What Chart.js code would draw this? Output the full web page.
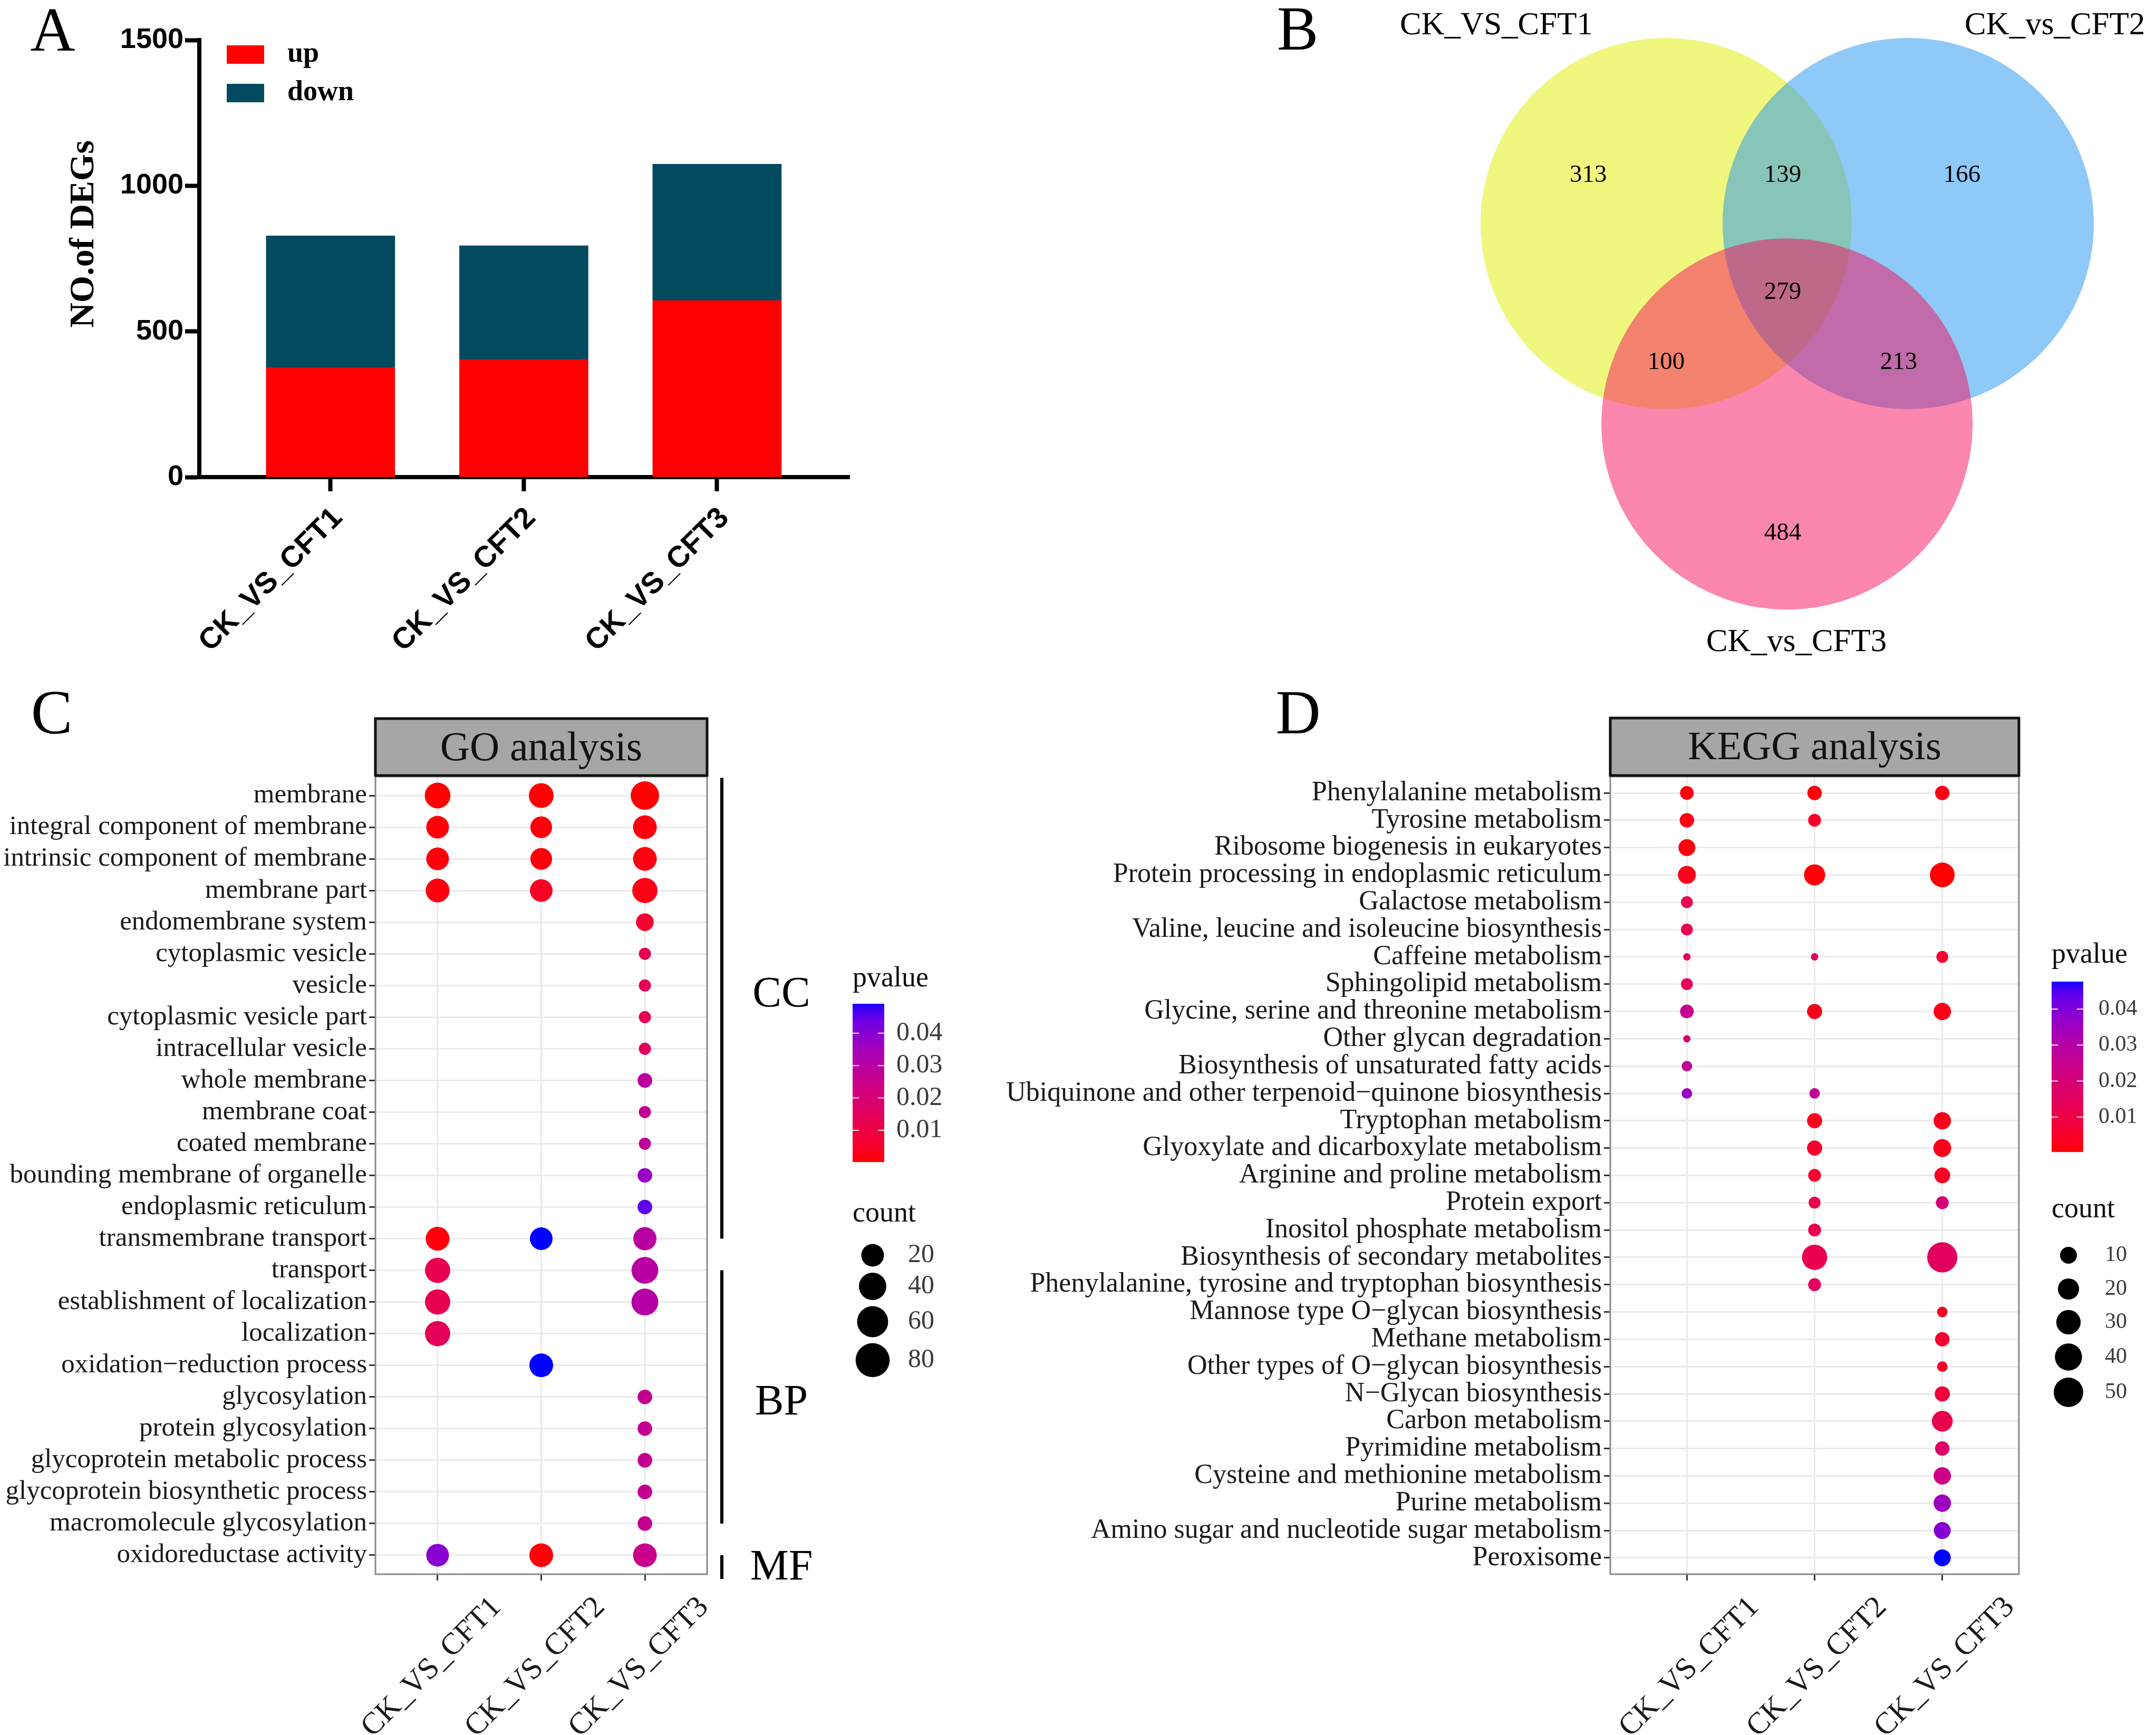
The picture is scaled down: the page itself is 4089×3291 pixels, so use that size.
<!DOCTYPE html>
<html>
<head>
<meta charset="utf-8">
<script src="https://cdn.jsdelivr.net/npm/chart.js@4.4.1/dist/chart.umd.min.js"></script>
<style>
html,body{margin:0;padding:0;background:#fff;}
#page{position:relative;width:4089px;height:3291px;overflow:hidden;background:#fff;}
canvas{position:absolute;display:block;}
</style>
</head>
<body>
<div id="page">
<canvas id="cA" width="1700" height="1300" style="left:0px;top:0px;width:1700px;height:1300px"></canvas>
<canvas id="cB" width="1689" height="1300" style="left:2400px;top:0px;width:1689px;height:1300px"></canvas>
<canvas id="cC" width="1900" height="1991" style="left:0px;top:1300px;width:1900px;height:1991px"></canvas>
<canvas id="cD" width="2189" height="1991" style="left:1900px;top:1300px;width:2189px;height:1991px"></canvas>
</div>
<script>
// ---------------- DATA ----------------
// Panel A: number of DEGs
const degComparisons = ['CK_VS_CFT1', 'CK_VS_CFT2', 'CK_VS_CFT3'];
const degUp   = [376, 404, 606];
const degDown = [452, 390, 468];
const degTicks = [0, 500, 1000, 1500];

// Panel B: Venn
const vennSetNames = ['CK_VS_CFT1', 'CK_vs_CFT2', 'CK_vs_CFT3'];
// regions: only1, 1&2, only2, 1&2&3, 1&3, 2&3, only3
const vennRegionCounts = [313, 139, 166, 279, 100, 213, 484];

// Panel C: GO analysis
const goComparisons = ['CK_VS_CFT1', 'CK_VS_CFT2', 'CK_VS_CFT3'];
const goTerms = ['membrane', 'integral component of membrane', 'intrinsic component of membrane', 'membrane part',
  'endomembrane system', 'cytoplasmic vesicle', 'vesicle', 'cytoplasmic vesicle part', 'intracellular vesicle',
  'whole membrane', 'membrane coat', 'coated membrane', 'bounding membrane of organelle', 'endoplasmic reticulum',
  'transmembrane transport', 'transport', 'establishment of localization', 'localization',
  'oxidation\u2212reduction process', 'glycosylation', 'protein glycosylation', 'glycoprotein metabolic process',
  'glycoprotein biosynthetic process', 'macromolecule glycosylation', 'oxidoreductase activity'];
const goCountCFT1 = [32, 20, 20, 24, null, null, null, null, null, null, null, null, null, null, 24, 30, 30, 30, null, null, null, null, null, null, 20];
const goCountCFT2 = [28, 17, 17, 20, null, null, null, null, null, null, null, null, null, null, 20, null, null, null, 24, null, null, null, null, null, 24];
const goCountCFT3 = [45, 24, 24, 30, 7, 2, 2, 2, 2, 3, 2, 2, 3, 3, 22, 37, 37, null, null, 3, 3, 3, 3, 3, 24];
const goPvalCFT1 = [0.0004, 0.0008, 0.0009, 0.0015, null, null, null, null, null, null, null, null, null, null, 0.0010, 0.0125, 0.0130, 0.0140, null, null, null, null, null, null, 0.0400];
const goPvalCFT2 = [0.0005, 0.0010, 0.0011, 0.0040, null, null, null, null, null, null, null, null, null, null, 0.0491, null, null, null, 0.0491, null, null, null, null, null, 0.0006];
const goPvalCFT3 = [0.0002, 0.0015, 0.0016, 0.0020, 0.0060, 0.0130, 0.0140, 0.0135, 0.0150, 0.0290, 0.0270, 0.0275, 0.0370, 0.0450, 0.0300, 0.0300, 0.0310, null, null, 0.0260, 0.0265, 0.0265, 0.0270, 0.0265, 0.0250];
const goPvalTicks = [0.01, 0.02, 0.03, 0.04];
const goCountTicks = [20, 40, 60, 80];

// Panel D: KEGG analysis
const keggComparisons = ['CK_VS_CFT1', 'CK_VS_CFT2', 'CK_VS_CFT3'];
const keggTerms = ['Phenylalanine metabolism', 'Tyrosine metabolism', 'Ribosome biogenesis in eukaryotes',
  'Protein processing in endoplasmic reticulum', 'Galactose metabolism', 'Valine, leucine and isoleucine biosynthesis',
  'Caffeine metabolism', 'Sphingolipid metabolism', 'Glycine, serine and threonine metabolism', 'Other glycan degradation',
  'Biosynthesis of unsaturated fatty acids', 'Ubiquinone and other terpenoid\u2212quinone biosynthesis', 'Tryptophan metabolism',
  'Glyoxylate and dicarboxylate metabolism', 'Arginine and proline metabolism', 'Protein export', 'Inositol phosphate metabolism',
  'Biosynthesis of secondary metabolites', 'Phenylalanine, tyrosine and tryptophan biosynthesis', 'Mannose type O\u2212glycan biosynthesis',
  'Methane metabolism', 'Other types of O\u2212glycan biosynthesis', 'N\u2212Glycan biosynthesis', 'Carbon metabolism',
  'Pyrimidine metabolism', 'Cysteine and methionine metabolism', 'Purine metabolism',
  'Amino sugar and nucleotide sugar metabolism', 'Peroxisome'];
const keggCountCFT1 = [5, 6, 10, 12, 3, 3, 1, 3, 5, 1, 2, 2, null, null, null, null, null, null, null, null, null, null, null, null, null, null, null, null, null];
const keggCountCFT2 = [6, 4, null, 20, null, null, 1, null, 7, null, null, 2, 7, 7, 4, 3, 4, 33, 4, null, null, null, null, null, null, null, null, null, null];
const keggCountCFT3 = [6, null, null, 31, null, null, 3, null, 11, null, null, null, 11, 12, 8, 4, null, 53, null, 2, 6, 2, 7, 19, 6, 11, 11, 10, 10];
const keggPvalCFT1 = [0.0015, 0.0020, 0.0015, 0.0030, 0.0120, 0.0115, 0.0160, 0.0140, 0.0250, 0.0200, 0.0270, 0.0360, null, null, null, null, null, null, null, null, null, null, null, null, null, null, null, null, null];
const keggPvalCFT2 = [0.0010, 0.0045, null, 0.0008, null, null, 0.0150, null, 0.0030, null, null, 0.0270, 0.0030, 0.0050, 0.0060, 0.0110, 0.0120, 0.0120, 0.0150, null, null, null, null, null, null, null, null, null, null];
const keggPvalCFT3 = [0.0020, null, null, 0.0003, null, null, 0.0060, null, 0.0025, null, null, null, 0.0025, 0.0030, 0.0040, 0.0200, null, 0.0150, null, 0.0040, 0.0060, 0.0050, 0.0080, 0.0110, 0.0170, 0.0230, 0.0350, 0.0390, 0.0476];
const keggPvalTicks = [0.01, 0.02, 0.03, 0.04];
const keggCountTicks = [10, 20, 30, 40, 50];

// ---------------- HELPERS ----------------
const SERIF = 'Liberation Serif, Times New Roman, serif';
const SANS = 'Liberation Sans, Arial, sans-serif';

function toLin(c){c/=255;return c<=0.04045?c/12.92:Math.pow((c+0.055)/1.055,2.4);}
function fromLin(v){v=v<=0.0031308?12.92*v:1.055*Math.pow(v,1/2.4)-0.055;return Math.max(0,Math.min(255,Math.round(v*255)));}
function rgb2lab(rgb){
  const [r,g,b]=rgb.map(toLin);
  const X=(0.4124564*r+0.3575761*g+0.1804375*b)/0.95047;
  const Y=(0.2126729*r+0.7151522*g+0.0721750*b);
  const Z=(0.0193339*r+0.1191920*g+0.9503041*b)/1.08883;
  const f=t=>t>0.008856?Math.cbrt(t):7.787*t+16/116;
  const fx=f(X),fy=f(Y),fz=f(Z);
  return [116*fy-16,500*(fx-fy),200*(fy-fz)];
}
function lab2rgb([L,a,b]){
  const fy=(L+16)/116,fx=fy+a/500,fz=fy-b/200;
  const finv=t=>{const t3=t*t*t;return t3>0.008856?t3:(t-16/116)/7.787;};
  const X=finv(fx)*0.95047,Y=finv(fy),Z=finv(fz)*1.08883;
  const r=3.2404542*X-1.5371385*Y-0.4985314*Z;
  const g=-0.9692660*X+1.8760108*Y+0.0415560*Z;
  const bl=0.0556434*X-0.2040259*Y+1.0572252*Z;
  return [fromLin(r),fromLin(g),fromLin(bl)];
}
const LAB_LOW = rgb2lab([255,0,0]);
const LAB_HIGH = rgb2lab([0,0,255]);
function gradColor(t){
  t=Math.max(0,Math.min(1,t));
  const lab=[0,1,2].map(k=>LAB_LOW[k]+(LAB_HIGH[k]-LAB_LOW[k])*t);
  const c=lab2rgb(lab);
  return 'rgb('+c[0]+','+c[1]+','+c[2]+')';
}

const letterPlugin = (letter, x, y) => ({
  id: 'letter' + letter,
  afterDraw(chart){
    const ctx = chart.ctx;
    ctx.save();
    ctx.fillStyle = '#000';
    ctx.font = '118px ' + SERIF;
    ctx.textAlign = 'center';
    ctx.textBaseline = 'alphabetic';
    ctx.fillText(letter, x, y);
    ctx.restore();
  }
});

// ---------------- PANEL A ----------------
const degColors = ['#ff0000', '#024b5e'];
const degLegendPlugin = {
  id: 'degLegend',
  afterDraw(chart){
    const ctx = chart.ctx;
    ctx.save();
    chart.data.datasets.forEach((ds, i) => {
      const y = 86 + i * 73;
      ctx.fillStyle = ds.backgroundColor;
      ctx.fillRect(430, y, 71, 35);
      ctx.fillStyle = '#000';
      ctx.font = 'bold 54px ' + SERIF;
      ctx.textAlign = 'left';
      ctx.textBaseline = 'alphabetic';
      ctx.fillText(ds.label, 545, y + 31);
    });
    // y axis title
    ctx.translate(160, 444);
    ctx.rotate(-Math.PI / 2);
    ctx.font = 'bold 66px ' + SERIF;
    ctx.textAlign = 'center';
    ctx.textBaseline = 'middle';
    ctx.fillText('NO.of DEGs', 0, 0);
    ctx.restore();
  }
};

new Chart(document.getElementById('cA'), {
  type: 'bar',
  data: {
    datasets: [
      {label: 'up', data: degUp.map((v, i) => ({x: i, y: v})), backgroundColor: degColors[0], barThickness: 244, borderWidth: 0},
      {label: 'down', data: degDown.map((v, i) => ({x: i, y: v})), backgroundColor: degColors[1], barThickness: 244, borderWidth: 0}
    ]
  },
  options: {
    responsive: false, devicePixelRatio: 1, animation: false, events: [],
    layout: {padding: {left: 0, top: 76, right: 89, bottom: 0}},
    plugins: {legend: {display: false}, tooltip: {enabled: false}},
    scales: {
      x: {
        type: 'linear', stacked: true, offset: false, min: -0.679, max: 2.685,
        afterBuildTicks: s => { s.ticks = degComparisons.map((_, i) => ({value: i})); },
        afterFit: s => { s.height = 395; },
        grid: {display: true, drawOnChartArea: false, drawTicks: true, offset: false, tickLength: 27, tickWidth: 8, tickColor: '#000', color: '#000'},
        border: {display: true, color: '#000', width: 8},
        ticks: {callback: v => degComparisons[v], autoSkip: false, minRotation: 45, maxRotation: 45,
          font: {family: SANS, weight: 'bold', size: 56}, color: '#000', padding: 18, labelOffset: 14}
      },
      y: {
        type: 'linear', stacked: true, min: 0, max: 1500,
        afterBuildTicks: s => { s.ticks = degTicks.map(v => ({value: v})); },
        afterFit: s => { s.width = 378; },
        grid: {display: true, drawOnChartArea: false, drawTicks: true, tickLength: 27, tickWidth: 8, tickColor: '#000', color: '#000'},
        border: {display: true, color: '#000', width: 8},
        ticks: {callback: v => String(v), font: {family: SANS, weight: 'bold', size: 54}, color: '#000', padding: 3}
      }
    }
  },
  plugins: [degLegendPlugin, letterPlugin('A', 100, 96)]
});

// ---------------- PANEL B (Venn) ----------------
const vennLayout = {
  radius: 1,
  centers: [[0, 0], [1.304, 0], [0.651, -1.08]],
  colors: ['rgba(225,239,0,0.5)', 'rgba(29,147,239,0.5)', 'rgba(247,13,93,0.5)'],
  regionPos: [[-0.42, 0.259], [0.628, 0.259], [1.594, 0.259], [0.628, -0.372], [0.0, -0.75], [1.253, -0.75], [0.628, -1.67]],
  namePos: [[-0.915, 1.065], [2.094, 1.065], [0.702, -2.259]],
  xRange: [-2.1591, 2.6392],
  yRange: [-2.4886, 1.2045]
};
const vennLabelPlugin = {
  id: 'vennLabels',
  afterDatasetsDraw(chart){
    const ctx = chart.ctx, xs = chart.scales.x, ys = chart.scales.y;
    ctx.save();
    ctx.fillStyle = '#000';
    ctx.textAlign = 'center';
    ctx.textBaseline = 'middle';
    ctx.font = '47px ' + SERIF;
    vennRegionCounts.forEach((n, i) => {
      const p = vennLayout.regionPos[i];
      ctx.fillText(String(n), xs.getPixelForValue(p[0]), ys.getPixelForValue(p[1]));
    });
    ctx.font = '61px ' + SERIF;
    vennSetNames.forEach((n, i) => {
      const p = vennLayout.namePos[i];
      ctx.fillText(n, xs.getPixelForValue(p[0]), ys.getPixelForValue(p[1]));
    });
    ctx.restore();
  }
};
new Chart(document.getElementById('cB'), {
  type: 'scatter',
  data: {
    datasets: [{
      data: vennLayout.centers.map(c => ({x: c[0], y: c[1]})),
      pointRadius: ctx => {
        const s = ctx.chart.scales.x;
        return Math.abs(s.getPixelForValue(vennLayout.radius) - s.getPixelForValue(0));
      },
      pointBackgroundColor: vennLayout.colors,
      pointBorderWidth: 0,
      clip: false
    }]
  },
  options: {
    responsive: false, devicePixelRatio: 1, animation: false, events: [],
    layout: {padding: 0},
    plugins: {legend: {display: false}, tooltip: {enabled: false}},
    scales: {
      x: {type: 'linear', display: false, min: vennLayout.xRange[0], max: vennLayout.xRange[1]},
      y: {type: 'linear', display: false, min: vennLayout.yRange[0], max: vennLayout.yRange[1]}
    }
  },
  plugins: [vennLabelPlugin, letterPlugin('B', 61, 94)]
});

// ---------------- PANELS C & D (bubble) ----------------
function bubblePanel(canvas, P){
  const allP = [].concat(...P.pvals).filter(v => v != null);
  const pmin = Math.min(...allP), pmax = Math.max(...allP);
  const colorOf = p => gradColor((p - pmin) / (pmax - pmin));
  const datasets = P.comparisons.map((name, j) => ({
    label: name,
    data: P.terms.map((t, i) => ({x: j, y: i, count: P.counts[j][i], p: P.pvals[j][i]})).filter(d => d.count != null),
    pointRadius: ctx => P.size(ctx.raw.count) / 2,
    pointBackgroundColor: ctx => colorOf(ctx.raw.p),
    pointBorderWidth: 0,
    showLine: false,
    clip: false
  }));
  const decor = {
    id: 'decor' + P.strip,
    afterDraw(chart){
      const ctx = chart.ctx, a = chart.chartArea, ys = chart.scales.y;
      ctx.save();
      // panel border
      ctx.strokeStyle = '#8a8a8a';
      ctx.lineWidth = 3;
      ctx.strokeRect(a.left, a.top, a.right - a.left, a.bottom - a.top);
      // strip
      const sTop = P.stripTop, sBot = a.top - 2;
      ctx.fillStyle = '#a6a6a6';
      ctx.fillRect(a.left, sTop, a.right - a.left, sBot - sTop);
      ctx.strokeStyle = '#111';
      ctx.lineWidth = 5;
      ctx.strokeRect(a.left, sTop, a.right - a.left, sBot - sTop);
      ctx.fillStyle = '#111';
      ctx.font = P.stripFont + 'px ' + SERIF;
      ctx.textAlign = 'center';
      ctx.textBaseline = 'alphabetic';
      ctx.fillText(P.strip, (a.left + a.right) / 2, P.stripBase);
      // brackets
      (P.brackets || []).forEach(b => {
        ctx.strokeStyle = '#000';
        ctx.lineWidth = 6;
        ctx.beginPath();
        ctx.moveTo(P.bracketX, ys.getPixelForValue(b.from));
        ctx.lineTo(P.bracketX, ys.getPixelForValue(b.to));
        ctx.stroke();
        ctx.fillStyle = '#000';
        ctx.font = '82px ' + SERIF;
        ctx.textAlign = 'center';
        ctx.textBaseline = 'middle';
        ctx.fillText(b.label, P.bracketLabelX, ys.getPixelForValue(b.at));
      });
      // pvalue legend
      const L = P.legend;
      ctx.fillStyle = '#111';
      ctx.font = '54px ' + SERIF;
      ctx.textAlign = 'left';
      ctx.textBaseline = 'middle';
      ctx.fillText('pvalue', L.x, L.pTitleY);
      const bh = L.barBottom - L.barTop;
      for (let k = 0; k < bh; k++){
        const p = pmax - (k + 0.5) / bh * (pmax - pmin);
        ctx.fillStyle = colorOf(p);
        ctx.fillRect(L.x, L.barTop + k, L.barW, 1.2);
      }
      ctx.font = L.labelFont + 'px ' + SERIF;
      P.pTicks.forEach(v => {
        const y = L.barTop + (pmax - v) / (pmax - pmin) * bh;
        ctx.strokeStyle = 'rgba(255,255,255,0.9)';
        ctx.lineWidth = 2;
        ctx.beginPath();
        ctx.moveTo(L.x, y); ctx.lineTo(L.x + L.barW * 0.2, y);
        ctx.moveTo(L.x + L.barW * 0.8, y); ctx.lineTo(L.x + L.barW, y);
        ctx.stroke();
        ctx.fillStyle = '#3a3a3a';
        ctx.fillText(v.toFixed(2), L.pLabelX, y);
      });
      // count legend
      ctx.fillStyle = '#111';
      ctx.font = '54px ' + SERIF;
      ctx.fillText('count', L.x, L.cTitleY);
      P.countTicks.forEach((c, i) => {
        const y = L.cDotY[i];
        ctx.fillStyle = '#000';
        ctx.beginPath();
        ctx.arc(L.cDotX, y, P.size(c) / 2, 0, Math.PI * 2);
        ctx.fill();
        ctx.fillStyle = '#3a3a3a';
        ctx.font = L.labelFont + 'px ' + SERIF;
        ctx.fillText(String(c), L.cLabelX, y);
      });
      ctx.restore();
    }
  };
  const gridOpts = {color: '#ebebeb', lineWidth: 3, tickColor: '#333', tickLength: 12, tickWidth: 3, drawTicks: true};
  new Chart(canvas, {
    type: 'scatter',
    data: {datasets},
    options: {
      responsive: false, devicePixelRatio: 1, animation: false, events: [],
      layout: {padding: {top: P.padTop, right: P.padRight, left: 0, bottom: 0}},
      plugins: {legend: {display: false}, tooltip: {enabled: false}},
      scales: {
        x: {
          type: 'linear', min: -0.6, max: P.comparisons.length - 1 + 0.6,
          afterBuildTicks: s => { s.ticks = P.comparisons.map((_, i) => ({value: i})); },
          afterFit: s => { s.height = P.xAxisHeight; },
          grid: gridOpts, border: {display: false},
          ticks: {callback: v => P.comparisons[v], autoSkip: false, minRotation: 45, maxRotation: 45,
            font: {family: SERIF, size: 58}, color: '#1a1a1a', padding: P.xPad, labelOffset: P.xLabelOffset}
        },
        y: {
          type: 'linear', reverse: true, min: -0.6, max: P.terms.length - 1 + 0.6,
          afterBuildTicks: s => { s.ticks = P.terms.map((_, i) => ({value: i})); },
          afterFit: s => { s.width = P.yAxisWidth; },
          grid: gridOpts, border: {display: false},
          ticks: {callback: v => P.terms[v], autoSkip: false, font: {family: SERIF, size: P.yFont}, color: '#1a1a1a', padding: 4}
        }
      }
    },
    plugins: [decor, letterPlugin(P.letter, P.letterX, P.letterY)]
  });
}

bubblePanel(document.getElementById('cC'), {
  comparisons: goComparisons, terms: goTerms,
  counts: [goCountCFT1, goCountCFT2, goCountCFT3],
  pvals: [goPvalCFT1, goPvalCFT2, goPvalCFT3],
  size: c => 23 + 4.71 * Math.sqrt(Math.max(c - 2, 0)),
  pTicks: goPvalTicks, countTicks: goCountTicks,
  padTop: 173, padRight: 559, xAxisHeight: 305, yAxisWidth: 712, yFont: 51,
  xPad: 17, xLabelOffset: 112,
  strip: 'GO analysis', stripTop: 63, stripBase: 142, stripFont: 78,
  brackets: [{label: 'CC', from: -0.56, to: 14, at: 6.3}, {label: 'BP', from: 15, to: 23, at: 19.2}, {label: 'MF', from: 24, to: 24.75, at: 24.4}],
  bracketX: 1369, bracketLabelX: 1482,
  legend: {x: 1617, pTitleY: 557, barTop: 604, barBottom: 904, barW: 60, pLabelX: 1700, labelFont: 50,
           cTitleY: 1003, cDotX: 1655, cDotY: [1081, 1140, 1207, 1280], cLabelX: 1722},
  letter: 'C', letterX: 98, letterY: 91
});

bubblePanel(document.getElementById('cD'), {
  comparisons: keggComparisons, terms: keggTerms,
  counts: [keggCountCFT1, keggCountCFT2, keggCountCFT3],
  pvals: [keggPvalCFT1, keggPvalCFT2, keggPvalCFT3],
  size: c => 14 + 6 * Math.sqrt(Math.max(c - 1, 0)),
  pTicks: keggPvalTicks, countTicks: keggCountTicks,
  padTop: 173, padRight: 260, xAxisHeight: 305, yAxisWidth: 1154, yFont: 52,
  xPad: 17, xLabelOffset: 128,
  strip: 'KEGG analysis', stripTop: 62, stripBase: 140, stripFont: 77,
  brackets: [],
  legend: {x: 1991, pTitleY: 512, barTop: 562, barBottom: 885, barW: 60, pLabelX: 2080, labelFont: 42,
           cTitleY: 995, cDotX: 2023, cDotY: [1081, 1145, 1208, 1274, 1341], cLabelX: 2092},
  letter: 'D', letterX: 562, letterY: 91
});
</script>
</body>
</html>
